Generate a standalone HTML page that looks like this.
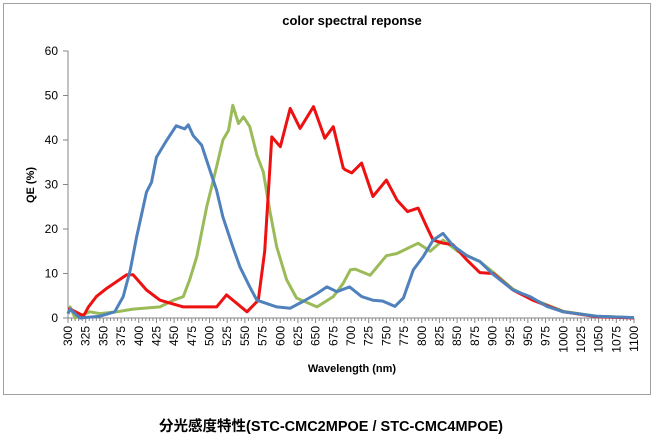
<!DOCTYPE html>
<html><head><meta charset="utf-8"><style>
body{margin:0;background:#fff;width:655px;height:447px;overflow:hidden}
svg{display:block;font-family:"Liberation Sans","Noto Sans CJK JP",sans-serif}
</style></head><body>
<svg width="655" height="447">
<rect x="3.5" y="3.5" width="647" height="391" fill="#fff" stroke="#a0a0a0"/>
<text x="352" y="25" text-anchor="middle" font-size="13" font-weight="bold">color spectral reponse</text>
<text transform="translate(34,185) rotate(-90)" text-anchor="middle" font-size="11" font-weight="bold">QE (%)</text>
<text x="352" y="372" text-anchor="middle" font-size="11" font-weight="bold">Wavelength (nm)</text>
<text x="331" y="431" text-anchor="middle" font-size="14.5" font-weight="bold">分光感度特性(STC-CMC2MPOE / STC-CMC4MPOE)</text>
<g id="axes"></g>
<g id="series"></g>
</svg>
<script>
const wlRed=[300,303,322,329,340,355,383,392,411,430,463,510,524,553,569,578,588,600,614,628,647,663,675,689,692,701,715,731,750,765,780,795,807,816,830,844,864,882,901,929,957,1000,1047,1100];
const qeRed=[2,2,0.5,2.5,4.8,6.7,9.7,9.7,6.3,4,2.5,2.5,5.2,1.4,4,15,40.7,38.5,47.1,42.6,47.5,40.4,43,33.7,33.3,32.6,34.8,27.3,31,26.5,23.9,24.7,20.5,17.5,16.8,16.5,13,10.2,10,6.3,4,1.4,0.3,0];
const wlBlue=[300,303,317,345,366,378,388,397,411,418,425,439,453,465,470,477,489,496,510,519,533,543,557,567,595,614,632,652,666,680,698,715,731,745,762,774,788,802,816,830,844,864,882,901,929,953,977,1000,1047,1100];
const qeBlue=[1,2,0,0.4,1.4,4.8,10.8,18.2,28.3,30.5,36.1,39.8,43.2,42.5,43.4,41,38.8,35.4,28.7,22.7,16,11.5,7,4,2.5,2.2,3.7,5.5,7,5.9,7,4.8,4,3.8,2.6,4.5,10.8,13.8,17.5,19,16.3,14,12.7,9.8,6.3,4.8,2.6,1.4,0.4,0.1];
const wlGreen=[300,303,310,331,345,369,392,430,449,463,472,482,496,510,519,527,533,541,548,557,567,576,586,595,609,623,652,675,689,699,706,727,750,765,795,812,830,851,882,901,929,957,1000,1047,1100];
const qeGreen=[1,2.5,0,1.4,1,1.4,2,2.5,4,4.8,8.6,13.8,25,34,40,42.2,47.8,43.7,45.2,43,36.6,32.8,23.5,16,8.6,4.5,2.5,4.8,7.8,10.8,11,9.6,14,14.5,16.8,15,17.5,15,12.7,10.3,6.5,4.2,1.5,0.4,0.1];
const yTicks=[0,10,20,30,40,50,60];
const x0=68,x1=634,y0=318,yTop=51;
const xs=w=>x0+(w-300)*(x1-x0)/800;
const ys=v=>y0-v*(y0-yTop)/60;
const NS="http://www.w3.org/2000/svg";
const ax=document.getElementById('axes'),sg=document.getElementById('series');
function mk(tag,at,parent){const e=document.createElementNS(NS,tag);for(const k in at)e.setAttribute(k,at[k]);parent.appendChild(e);return e;}
const yl=mk('line',{x1:x0,y1:yTop,x2:x0,y2:y0,stroke:'#868686'},ax);


const xl=mk('line',{x1:x0,y1:y0,x2:x1,y2:y0,stroke:'#868686'},ax);


yTicks.forEach(v=>{
 mk('line',{x1:x0-5,y1:ys(v),x2:x0,y2:ys(v),stroke:'#868686'},ax);
 const t=mk('text',{x:x0-10,y:ys(v)+4,'text-anchor':'end','font-size':'12'},ax);t.textContent=v;
 
 
});
for(let w=300;w<=1100;w+=5){mk('line',{x1:xs(w),y1:y0,x2:xs(w),y2:y0+(w%25?3:5),stroke:'#868686'},ax);}
for(let w=300;w<=1100;w+=25){
 const t=mk('text',{transform:`translate(${xs(w)+4},${y0+8}) rotate(-90)`,'text-anchor':'end','font-size':'12'},ax);t.textContent=w;
 
 
}
function line(wl,qe,col,name){
 const d=wl.map((w,i)=>(i?'L':'M')+xs(w).toFixed(1)+','+ys(qe[i]).toFixed(1)).join('');
 const p=mk('path',{d:d,fill:'none',stroke:col,'stroke-width':'3','stroke-linejoin':'round'},sg);
 
 
}
line(wlGreen,qeGreen,'#9bbb59','green-series');
line(wlRed,qeRed,'#ee1111','red-series');
line(wlBlue,qeBlue,'#4f81bd','blue-series');
</script>
</body></html>
